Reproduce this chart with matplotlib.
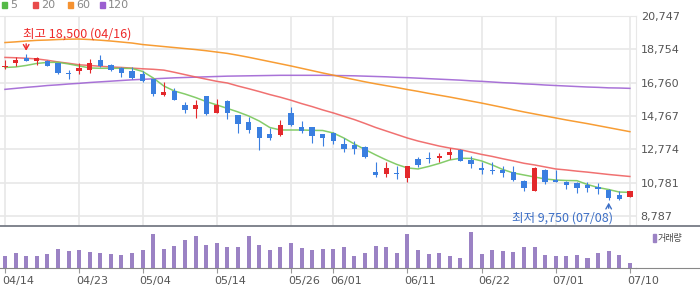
import matplotlib.pyplot as plt
import numpy as np
from matplotlib.lines import Line2D
from matplotlib.patches import Rectangle
from matplotlib.transforms import ScaledTranslation

plt.rcParams['font.family'] = ['DejaVu Sans']
KR = ['Noto Sans CJK KR', 'DejaVu Sans']

# x axis: trading-day index and the dates shown on it
tick_pos = [0, 7, 13, 20, 27, 31, 38, 45, 52, 59]
tick_labels = ["04/14", "04/23", "05/04", "05/14", "05/26", "06/01",
               "06/11", "06/22", "07/01", "07/10"]
price_ticks = [8787, 10781, 12774, 14767, 16760, 18754, 20747]

opens = [17680, 17940, 18240, 18070, 18070, 17920, 17360, 17480, 17500, 18120,
         17840, 17640, 17460, 17280, 16960, 16040, 16260, 15420, 15200, 15960,
         14960, 15660, 14830, 14410, 14110, 13670, 13630, 14930, 14110, 14110,
         13690, 13770, 13080, 13030, 12930, 11420, 11300, 11360, 11080, 12210,
         12250, 12240, 12440, 12750, 12150, 11680, 11560, 11560, 11420, 10880,
         10300, 11540, 10960, 10840, 10780, 10620, 10540, 10360, 10060, 9940]
closes = [17710, 18110, 18080, 18240, 17780, 17360, 17300, 17660, 17940, 17780,
          17500, 17360, 17060, 16880, 16100, 16200, 15740, 15140, 15420, 14890,
          15400, 14930, 14310, 13950, 13470, 13470, 14230, 14230, 13870, 13590,
          13470, 13290, 12790, 12810, 12320, 11240, 11660, 11300, 11780, 11840,
          12200, 12380, 12610, 12090, 11900, 11560, 11480, 11360, 10960, 10480,
          11660, 10840, 10820, 10660, 10480, 10480, 10400, 9880, 9820, 10260]
highs = [18120, 18280, 18500, 18280, 18100, 17950, 17500, 17920, 18180, 18400,
         17860, 17720, 17680, 17460, 16980, 16800, 16420, 15600, 15720, 15980,
         15780, 15740, 14830, 14710, 14110, 14030, 14530, 15290, 14470, 14110,
         13690, 13800, 13430, 13270, 12950, 12020, 12020, 11780, 11800, 12330,
         12600, 12550, 12870, 12770, 12390, 12000, 12030, 11780, 11780, 10960,
         11740, 11620, 11540, 10900, 10800, 10800, 10760, 10380, 10300, 10280]
lows = [17580, 17780, 18050, 17840, 17760, 17300, 16960, 17260, 17340, 17720,
        17480, 17120, 16980, 16820, 15980, 15980, 15710, 14960, 14670, 14830,
        14930, 14590, 13770, 13730, 12740, 13350, 13590, 14190, 13770, 13170,
        12990, 13110, 12630, 12510, 12270, 11140, 11140, 11020, 10840, 11700,
        11980, 12030, 12200, 12070, 11640, 11280, 11300, 11120, 10900, 10260,
        10300, 10700, 10820, 10420, 10180, 10240, 10100, 9750, 9760, 9920]
volumes_k = [123, 153, 123, 123, 143, 193, 173, 183, 163, 153,
             143, 133, 153, 183, 343, 193, 223, 283, 323, 233,
             253, 213, 213, 323, 233, 183, 213, 253, 203, 183,
             193, 193, 213, 123, 153, 223, 213, 153, 343, 183,
             143, 153, 123, 103, 363, 143, 183, 173, 163, 213,
             213, 133, 123, 123, 133, 103, 153, 173, 133, 53]

ma5 = [17670, 17700, 17790, 17910, 17970, 17980, 17880, 17760, 17640, 17620,
       17620, 17620, 17610, 17430, 17040, 16560, 16260, 16080, 15870, 15630,
       15430, 15220, 15010, 14770, 14470, 14080, 13930, 13930, 13930, 13910,
       13900, 13750, 13450, 13090, 12760, 12440, 12140, 11870, 11660, 11600,
       11750, 11930, 12140, 12240, 12230, 12080, 11840, 11570, 11360, 11240,
       11120, 11000, 10940, 10910, 10900, 10670, 10490, 10370, 10220, 10200]
ma20 = [18270, 18250, 18220, 18180, 18100, 18000, 17920, 17830, 17790, 17740,
        17700, 17670, 17630, 17590, 17560, 17510, 17380, 17240, 17100, 16970,
        16840, 16740, 16560, 16400, 16230, 16050, 15890, 15710, 15510, 15330,
        15130, 14950, 14750, 14550, 14320, 14080, 13870, 13660, 13450, 13270,
        13120, 12970, 12850, 12750, 12610, 12470, 12350, 12210, 12080, 11940,
        11840, 11720, 11600, 11540, 11470, 11410, 11340, 11270, 11210, 11150]
ma60 = [19160, 19200, 19250, 19290, 19310, 19340, 19360, 19370, 19340, 19300,
        19250, 19190, 19130, 19040, 18980, 18920, 18860, 18800, 18740, 18670,
        18590, 18510, 18400, 18280, 18150, 18020, 17890, 17760, 17620, 17480,
        17340, 17210, 17070, 16940, 16810, 16690, 16580, 16470, 16350, 16240,
        16120, 16010, 15900, 15780, 15660, 15540, 15410, 15280, 15140, 15010,
        14890, 14770, 14650, 14530, 14420, 14310, 14190, 14070, 13950, 13830]
ma120 = [16360, 16420, 16480, 16530, 16590, 16630, 16680, 16720, 16770, 16810,
         16850, 16890, 16930, 16960, 16990, 17020, 17050, 17070, 17090, 17110,
         17130, 17150, 17160, 17170, 17180, 17190, 17200, 17200, 17200, 17200,
         17200, 17190, 17180, 17170, 17150, 17130, 17110, 17080, 17060, 17030,
         17000, 16970, 16940, 16910, 16870, 16840, 16800, 16760, 16730, 16690,
         16660, 16620, 16590, 16560, 16530, 16500, 16480, 16450, 16440, 16420]

ma_names = ["5", "20", "60", "120"]
ma_colors = ["#78c75a", "#ef6262", "#f7921e", "#a064d4"]
legend_colors = ["#55b947", "#e84a4a", "#f59231", "#9b5fd0"]
UP, DOWN = "#e3282b", "#3a7fe0"

W, H = 700, 289
fig = plt.figure(figsize=(W / 100, H / 100), dpi=100)


def box(x0, y0, x1, y1):
    return [x0 / W, 1 - y1 / H, (x1 - x0) / W, (y1 - y0) / H]


ax = fig.add_axes(box(0, 16, 636, 225.5))
axv = fig.add_axes(box(0, 226, 636, 268.3), sharex=ax)

o, c, h, l = map(np.array, (opens, closes, highs, lows))
x = np.arange(len(c))
colors = np.where(c >= o, UP, DOWN)

# moving averages under the candles
for vals, col in zip([ma120, ma60, ma20, ma5], ma_colors[::-1]):
    ax.plot(x, vals, color=col, lw=1.1, alpha=0.9, zorder=2)

ax.vlines(x, l, h, colors=colors, lw=0.8, zorder=3)
ax.bar(x, np.maximum(np.abs(c - o), 50), bottom=np.minimum(o, c), width=0.5,
       color=colors, zorder=4)

ax.set_xlim(-0.47, len(c) - 0.42)
ax.set_ylim(8219, 20747)
ax.yaxis.tick_right()
ax.set_yticks(price_ticks)
ax.set_yticklabels([f"{v:,}" for v in price_ticks])
ax.tick_params(axis='y', length=0, pad=3.4, labelsize=8, labelcolor="#555555")
ax.tick_params(axis='x', length=0, labelbottom=False)
ax.set_xticks(tick_pos)
ax.grid(color="#e8e8e8", lw=1.2, zorder=0)
for s in ["left", "bottom"]:
    ax.spines[s].set_visible(False)
for s in ["top", "right"]:
    ax.spines[s].set_color("#e8e8e8")

# max / min labels
i_hi = int(np.argmax(h))
i_lo = int(np.argmin(l))
red_txt, blue_txt = "#ee2a2a", "#3d6fc6"
ax.annotate("", xy=(i_hi, h[i_hi]), xytext=(0, 9), textcoords="offset points",
            xycoords="data",
            arrowprops=dict(arrowstyle="->,head_length=0.35,head_width=0.2",
                            color=red_txt, lw=1), annotation_clip=False)
ax.annotate(f"최고 {h[i_hi]:,} (04/16)", xy=(i_hi, h[i_hi]), xytext=(-2, 14),
            textcoords="offset points", ha="left", va="center",
            color=red_txt, fontsize=9, family=KR)
ax.annotate("", xy=(i_lo, l[i_lo]), xytext=(0, -8), textcoords="offset points",
            arrowprops=dict(arrowstyle="->,head_length=0.35,head_width=0.2",
                            color=blue_txt, lw=1), annotation_clip=False)
ax.annotate(f"최저 {l[i_lo]:,} (07/08)", xy=(i_lo, l[i_lo]), xytext=(3, -13),
            textcoords="offset points", ha="right", va="center",
            color=blue_txt, fontsize=9, family=KR)

# volume
axv.bar(x, volumes_k, width=0.38, color="#9b82c4", zorder=2)
axv.set_ylim(0, max(volumes_k) * 1.165)
axv.set_yticks([])
for s in ["left", "right", "top"]:
    axv.spines[s].set_visible(False)
axv.spines["bottom"].set_color("#888888")
axv.set_xticks(tick_pos)
axv.set_xticklabels(tick_labels)
axv.tick_params(axis='x', length=3.6, pad=1.7, color="#999999", labelsize=8,
                labelcolor="#555555")
for lbl in axv.get_xticklabels():
    lbl.set_horizontalalignment("left")
    lbl.set_transform(lbl.get_transform() + ScaledTranslation(-3 / 100, 0, fig.dpi_scale_trans))

# separators across the full width
fig.add_artist(Line2D([0, 1], [1 - 225.8 / H] * 2, transform=fig.transFigure,
                      color="#767b85", lw=1.3))
fig.add_artist(Line2D([636 / W, 1], [1 - 268.3 / H] * 2, transform=fig.transFigure,
                      color="#888888", lw=0.8))

# MA legend on top
lx = [1.7, 33, 68, 100]
for xi, name, col in zip(lx, ma_names, legend_colors):
    fig.add_artist(Rectangle((xi / W, 1 - 7.5 / H), 5 / W, 5 / H,
                             transform=fig.transFigure, color=col))
    fig.text((xi + 8) / W, 1 - 5.3 / H, name, fontsize=8, color="#888888",
             va="center", ha="left")

# volume legend
fig.add_artist(Rectangle((652.7 / W, 1 - 242 / H), 3.5 / W, 8 / H,
                         transform=fig.transFigure, color="#9b82c4"))
fig.text(658 / W, 1 - 238 / H, "거래량", fontsize=6.5, color="#444444",
         va="center", ha="left", family=KR)

fig.savefig("out.png", dpi=100)
